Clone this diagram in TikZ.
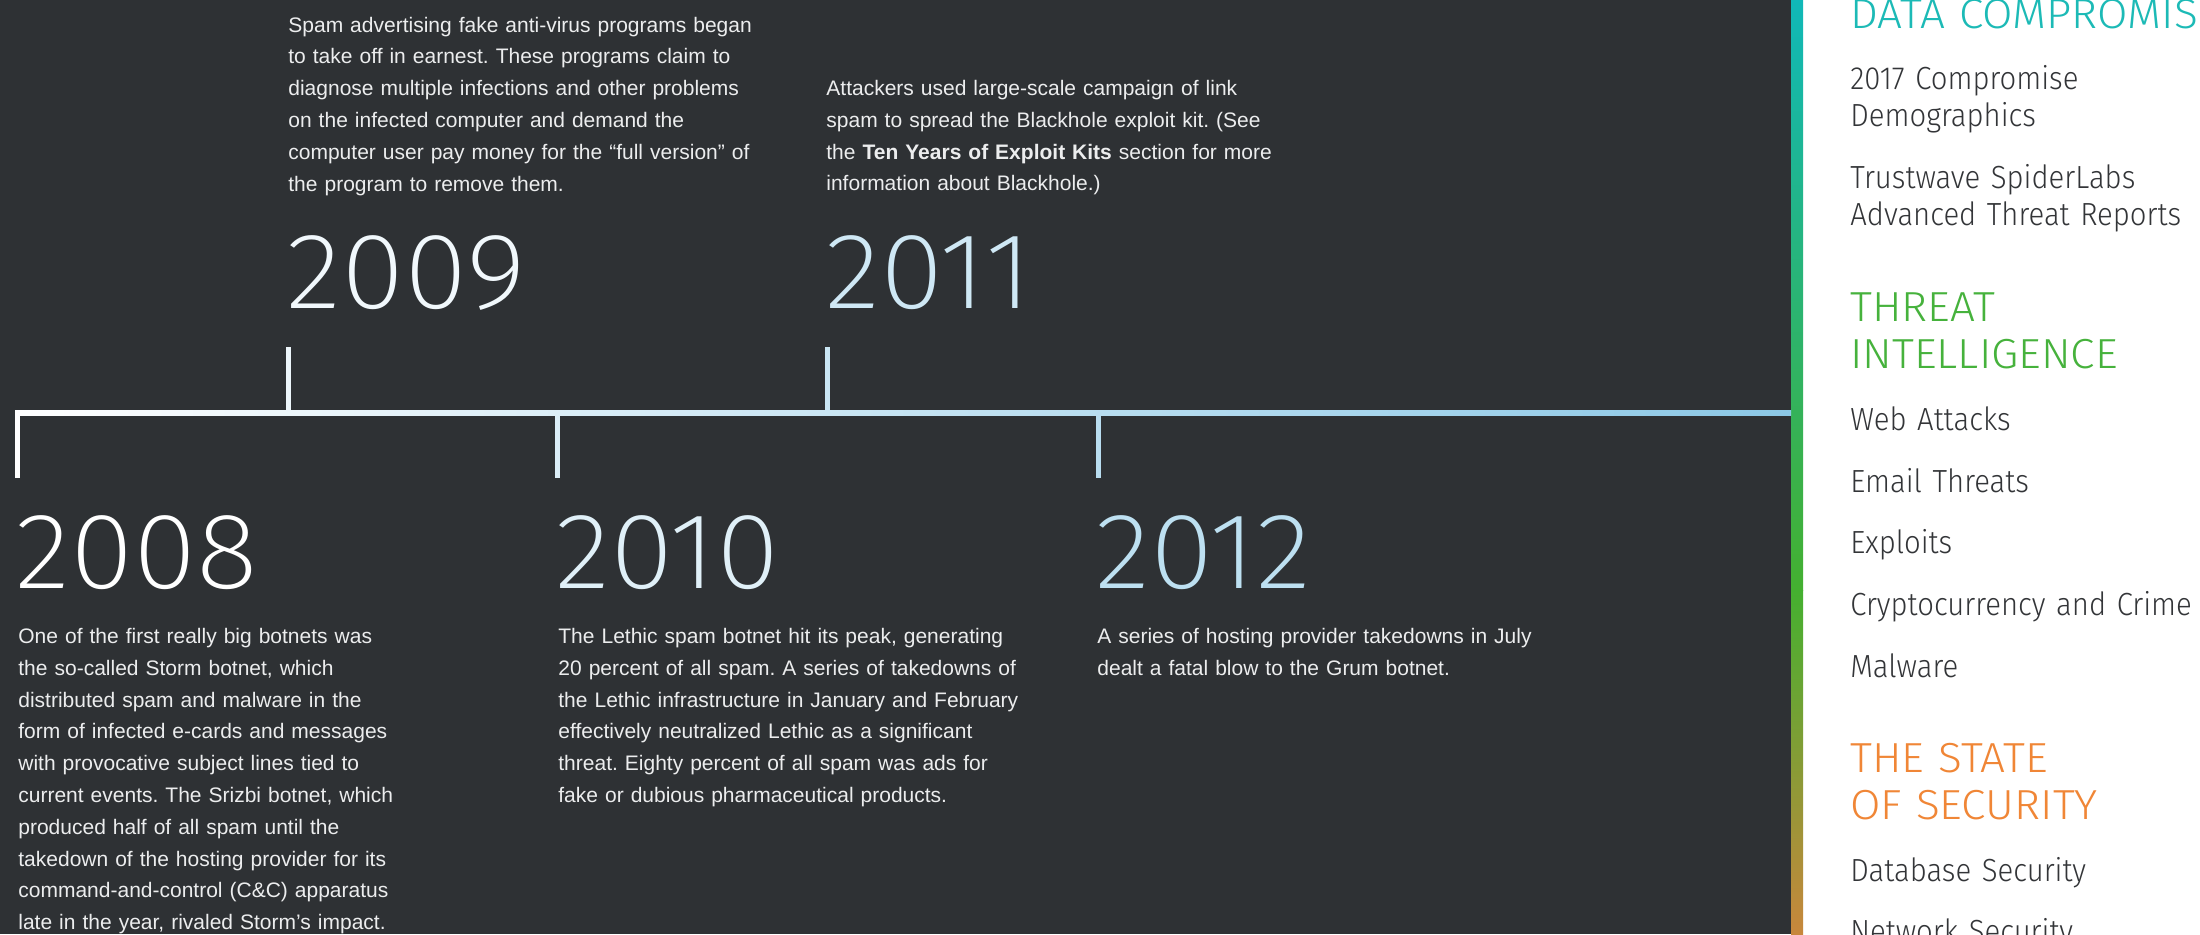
\documentclass[tikz,border=0pt]{standalone}
\usepackage{fontspec}
\usepackage{tikz}
\setmainfont{Liberation Sans}
\newfontfamily\yearfont{Fira Sans ExtraLight}[FakeStretch=1.07]
\newfontfamily\headfont{Fira Sans Light}[FakeStretch=1.05]
\newfontfamily\menufont{Fira Sans Light}[FakeStretch=0.915]

\definecolor{panel}{HTML}{2E3134}
\definecolor{tlblue}{HTML}{8CC8E6}
\definecolor{bodytext}{HTML}{ECEDEE}
\definecolor{menutext}{HTML}{333538}
\definecolor{hteal}{HTML}{1CBAB6}
\definecolor{hgreen}{HTML}{46B23C}
\definecolor{horange}{HTML}{F08636}
\definecolor{barteal}{HTML}{10B8B8}
\definecolor{bargreen}{HTML}{44B030}
\definecolor{barorange}{HTML}{C8873C}

\begin{document}
\begin{tikzpicture}[x=0.5pt,y=-0.5pt,
  year/.style={anchor=base west,inner sep=0pt,font=\yearfont\fontsize{54}{54}\selectfont},
  story/.style={anchor=base west,inner sep=0pt,text width=260pt,align=left,text=bodytext,
    font=\frenchspacing\fontsize{10.5}{15.9}\selectfont},
  menuhead/.style={anchor=base west,inner sep=0pt,text width=200pt,align=left,
    font=\headfont\fontsize{21}{23.5}\selectfont},
  menuitem/.style={anchor=base west,inner sep=0pt,text width=190pt,align=left,text=menutext,
    font=\menufont\fontsize{16}{18.75}\selectfont}]
\useasboundingbox (0,0) rectangle (2200,934);
\clip (0,0) rectangle (2200,934);

% background and side bar
\fill[white] (0,0) rectangle (2200,934);
\fill[panel] (0,0) rectangle (1791,934);
\shade[top color=barteal,bottom color=bargreen] (1791,0) rectangle (1803,590);
\shade[top color=bargreen,bottom color=barorange] (1791,590) rectangle (1803,934);

% timeline
\shade[left color=white,right color=tlblue] (15,410) rectangle (1791,415);
\coordinate (k2008) at (15,478);
\coordinate (k2009) at (286,347);
\coordinate (k2010) at (555,478);
\coordinate (k2011) at (825,347);
\coordinate (k2012) at (1096,478);
\fill[white] (k2008) rectangle (20,413);
\fill[tlblue!16!white] (k2009) rectangle (291,412);
\fill[tlblue!31!white] (k2010) rectangle (560,413);
\fill[tlblue!46!white] (k2011) rectangle (830,412);
\fill[tlblue!61!white] (k2012) rectangle (1101,413);

% years above the line
\node[year,text=tlblue!12!white] (y2009) at (286,308) {2009};
\node[year,text=tlblue!42!white] (y2011) at (825,308) {2011};
\node[story] (t2009) at (288,32) {Spam advertising fake anti-virus programs began\\
to take off in earnest. These programs claim to\\
diagnose multiple infections and other problems\\
on the infected computer and demand the\\
computer user pay money for the “full version” of\\
the program to remove them.};
\node[story] (t2011) at (826,95.4) {Attackers used large-scale campaign of link\\
spam to spread the Blackhole exploit kit. (See\\
the \textbf{Ten Years of Exploit Kits} section for more\\
information about Blackhole.)};

% years below the line
\node[year,text=white] (y2008) at (15,588) {2008};
\node[year,text=tlblue!27!white] (y2010) at (555,588) {2010};
\node[year,text=tlblue!57!white] (y2012) at (1095,588) {2012};
\node[story] (t2008) at (18,643.5) {One of the first really big botnets was\\
the so-called Storm botnet, which\\
distributed spam and malware in the\\
form of infected e-cards and messages\\
with provocative subject lines tied to\\
current events. The Srizbi botnet, which\\
produced half of all spam until the\\
takedown of the hosting provider for its\\
command-and-control (C\&C) apparatus\\
late in the year, rivaled Storm’s impact.};
\node[story] (t2010) at (558,643.5) {The Lethic spam botnet hit its peak, generating\\
20 percent of all spam. A series of takedowns of\\
the Lethic infrastructure in January and February\\
effectively neutralized Lethic as a significant\\
threat. Eighty percent of all spam was ads for\\
fake or dubious pharmaceutical products.};
\node[story] (t2012) at (1097,643.5) {A series of hosting provider takedowns in July\\
dealt a fatal blow to the Grum botnet.};

% side menu
\node[menuhead,text=hteal] (hdata) at (1850,28) {DATA COMPROMISE};
\node[menuitem] (mdemo) at (1850,89) {2017 Compromise\\Demographics};
\node[menuitem] (mreport) at (1850,188) {Trustwave SpiderLabs\\Advanced Threat Reports};
\node[menuhead,text=hgreen] (hthreat) at (1850,321) {THREAT\\INTELLIGENCE};
\node[menuitem] (mweb) at (1850,430) {Web Attacks};
\node[menuitem] (memail) at (1850,492) {Email Threats};
\node[menuitem] (mexploit) at (1850,553) {Exploits};
\node[menuitem] (mcrypto) at (1850,615) {Cryptocurrency and Crime};
\node[menuitem] (mmalware) at (1850,677) {Malware};
\node[menuhead,text=horange] (hstate) at (1850,772) {THE STATE\\OF SECURITY};
\node[menuitem] (mdb) at (1850,881) {Database Security};
\node[menuitem] (mnet) at (1850,942) {Network Security};
\end{tikzpicture}
\end{document}
